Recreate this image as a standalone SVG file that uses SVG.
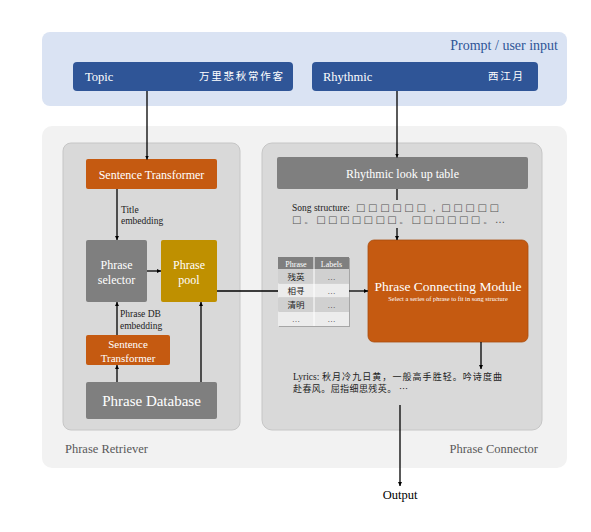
<svg xmlns="http://www.w3.org/2000/svg" width="591" height="532" viewBox="0 0 591 532">
<style>
text{font-weight:normal}
.lat{font-family:"Liberation Serif","Noto Sans CJK SC",serif}
.cjk{font-family:"Noto Sans CJK SC","Liberation Serif",serif}
.wt{fill:#ffffff}
.con{stroke:#000;stroke-width:1.3;fill:none}
.panel{fill:#d9d9d9;stroke:#c6c6c6;stroke-width:1}
.lbl{fill:#595959;font-size:12.5px}
.note{font-size:9.5px;fill:#222}
.sq{font-family:"DejaVu Sans",sans-serif;font-size:10px;fill:#555}
</style>
<defs>
<marker id="ah" viewBox="0 0 6 6" refX="6" refY="3" markerWidth="4" markerHeight="4" orient="auto" markerUnits="userSpaceOnUse">
<path d="M0,0 L6,3 L0,6 z" fill="#000"/>
</marker>
</defs>
<rect width="591" height="532" fill="#ffffff"/>

<g id="prompt">
<rect x="42" y="32" width="525" height="74" rx="8" fill="#dae3f3"/>
<text class="lat" x="558" y="50" text-anchor="end" font-size="14" fill="#2f5597">Prompt / user input</text>
</g>
<g id="topic">
<rect x="73" y="62" width="220" height="29" rx="4" fill="#2f5597"/>
<text class="lat wt" x="85" y="80.5" font-size="12.5">Topic</text>
<text class="cjk wt" x="199" y="80" font-size="10.5" textLength="84" lengthAdjust="spacing">万里悲秋常作客</text>
</g>
<g id="rhythmic">
<rect x="312" y="62" width="226" height="29" rx="4" fill="#2f5597"/>
<text class="lat wt" x="323" y="81" font-size="12.5">Rhythmic</text>
<text class="cjk wt" x="488" y="80" font-size="10.5" textLength="35" lengthAdjust="spacing">西江月</text>
</g>

<g id="system">
<rect x="42" y="126" width="525" height="342" rx="10" fill="#f2f2f2"/>
</g>

<g id="phrase-retriever">
<rect class="panel" x="63" y="143" width="177" height="287" rx="8"/>
<text class="lat lbl" x="65" y="453">Phrase Retriever</text>
</g>
<g id="phrase-connector">
<rect class="panel" x="262" y="143" width="280" height="287" rx="10"/>
<text class="lat lbl" x="538" y="453" text-anchor="end">Phrase Connector</text>
</g>

<g id="sentence-transformer-1">
<rect x="86" y="159" width="131" height="30" rx="2" fill="#c55a11"/>
<text class="lat wt" x="151.5" y="178.5" font-size="12" text-anchor="middle">Sentence Transformer</text>
</g>
<g id="phrase-selector">
<rect x="86" y="240" width="61" height="62" rx="2" fill="#7f7f7f"/>
<text class="lat wt" x="116.5" y="269" font-size="12" text-anchor="middle">Phrase</text>
<text class="lat wt" x="116.5" y="284" font-size="12" text-anchor="middle">selector</text>
</g>
<g id="phrase-pool">
<rect x="161" y="240" width="56" height="62" rx="2" fill="#bf9000"/>
<text class="lat wt" x="189" y="269" font-size="12" text-anchor="middle">Phrase</text>
<text class="lat wt" x="189" y="284" font-size="12" text-anchor="middle">pool</text>
</g>
<g id="sentence-transformer-2">
<rect x="86" y="335" width="84" height="30" rx="2" fill="#c55a11"/>
<text class="lat wt" x="128" y="348" font-size="11" text-anchor="middle">Sentence</text>
<text class="lat wt" x="128" y="361.5" font-size="11" text-anchor="middle">Transformer</text>
</g>
<g id="phrase-database">
<rect x="86" y="382" width="131" height="37" rx="2" fill="#7f7f7f"/>
<text class="lat wt" x="151.5" y="406" font-size="15" text-anchor="middle">Phrase Database</text>
</g>

<g id="rhythmic-table">
<rect x="277" y="157" width="251" height="32" rx="2" fill="#7f7f7f"/>
<text class="lat wt" x="402.5" y="178" font-size="12" text-anchor="middle">Rhythmic look up table</text>
</g>
<g id="song-structure">
<text class="lat" x="292" y="210.5" font-size="9.5" fill="#222">Song structure: </text>
<text class="sq" x="356" y="210.5" textLength="143" lengthAdjust="spacing">□□□□□□，□□□□□</text>
<text class="sq" x="292" y="223" textLength="213" lengthAdjust="spacing">□。□□□□□□□。□□□□□□。…</text>
</g>

<g id="phrase-table" class="lat" font-size="8">
<rect x="279" y="258" width="71" height="69" fill="#a6a6a6"/>
<rect x="278" y="257" width="71" height="12" fill="#7f7f7f"/>
<rect x="278" y="269" width="71" height="14.5" fill="#d0d0d0"/>
<rect x="278" y="283.5" width="71" height="14.2" fill="#ececec"/>
<rect x="278" y="297.7" width="71" height="14" fill="#d0d0d0"/>
<rect x="278" y="311.7" width="71" height="14.3" fill="#ececec"/>
<line x1="314" y1="257" x2="314" y2="326" stroke="#ffffff" stroke-width="1"/>
<text x="296" y="266.5" text-anchor="middle" fill="#fff" font-weight="bold">Phrase</text>
<text x="331.5" y="266.5" text-anchor="middle" fill="#fff" font-weight="bold">Labels</text>
<text class="cjk" x="296" y="279.5" text-anchor="middle" fill="#222" font-size="8.5">残英</text>
<text class="cjk" x="296" y="294" text-anchor="middle" fill="#222" font-size="8.5">相寻</text>
<text class="cjk" x="296" y="308" text-anchor="middle" fill="#222" font-size="8.5">清明</text>
<text x="296" y="322" text-anchor="middle" fill="#333">…</text>
<text x="331.5" y="280" text-anchor="middle" fill="#333">…</text>
<text x="331.5" y="294" text-anchor="middle" fill="#333">…</text>
<text x="331.5" y="308" text-anchor="middle" fill="#333">…</text>
<text x="331.5" y="322" text-anchor="middle" fill="#333">…</text>
</g>

<g id="phrase-connecting-module">
<rect x="368" y="240" width="160" height="102" rx="6" fill="#c55a11" stroke="#a84c0e" stroke-width="0.8"/>
<text class="lat wt" x="448" y="291" font-size="13.5" text-anchor="middle">Phrase Connecting Module</text>
<text class="lat wt" x="448" y="301" font-size="6.4" text-anchor="middle">Select a series of phrase to fit in song structure</text>
</g>

<g id="lyrics">
<text class="lat" x="293" y="380" font-size="9.5" fill="#222">Lyrics: </text>
<text class="cjk" x="322" y="380" font-size="9" fill="#222" textLength="180" lengthAdjust="spacing">秋月冷九日黄，一般高手胜轻。吟诗度曲</text>
<text class="cjk" x="293" y="391.5" font-size="9" fill="#222" textLength="115" lengthAdjust="spacing">赴春风。屈指细思残英。 …</text>
</g>

<g id="output">
<text class="lat" x="400" y="499" font-size="12.5" text-anchor="middle" fill="#000">Output</text>
</g>

<g id="connectors">
<line class="con" x1="147" y1="91" x2="147" y2="159.5" marker-end="url(#ah)"/>
<line class="con" x1="397" y1="91" x2="397" y2="157.5" marker-end="url(#ah)"/>
<line class="con" x1="117" y1="189" x2="117" y2="240" marker-end="url(#ah)"/>
<text class="lat note" x="121" y="213">Title</text>
<text class="lat note" x="121" y="224">embedding</text>
<line class="con" x1="147" y1="271" x2="161" y2="271" marker-end="url(#ah)"/>
<line class="con" x1="117" y1="335" x2="117" y2="302" marker-end="url(#ah)"/>
<text class="lat note" x="120" y="317">Phrase DB</text>
<text class="lat note" x="120" y="328.5">embedding</text>
<line class="con" x1="117" y1="382" x2="117" y2="365" marker-end="url(#ah)"/>
<line class="con" x1="201" y1="382" x2="201" y2="302" marker-end="url(#ah)"/>
<line class="con" x1="217" y1="291" x2="278" y2="291"/>
<line class="con" x1="349" y1="291" x2="368" y2="291" marker-end="url(#ah)"/>
<line class="con" x1="397" y1="189" x2="397" y2="200"/>
<line class="con" x1="397" y1="228" x2="397" y2="240" marker-end="url(#ah)"/>
<line class="con" x1="481" y1="342" x2="481" y2="369" marker-end="url(#ah)"/>
<line class="con" x1="400" y1="405" x2="400" y2="486" marker-end="url(#ah)"/>
</g>
</svg>
